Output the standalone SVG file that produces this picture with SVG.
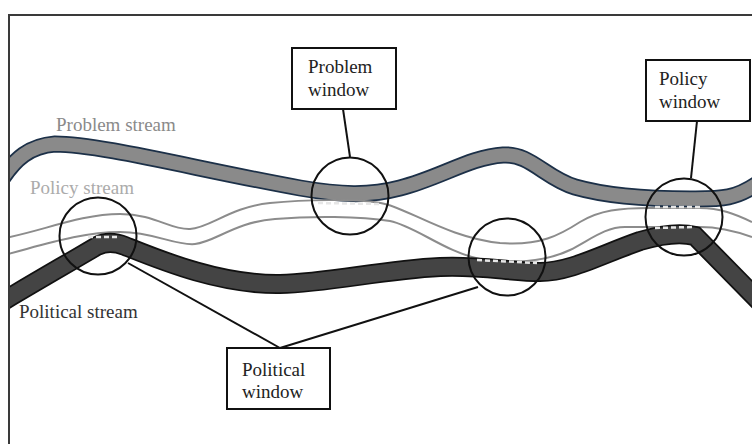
<svg xmlns="http://www.w3.org/2000/svg" width="752" height="444" viewBox="0 0 752 444">
<style>
.lbl{font-family:"Liberation Serif","Times New Roman",serif;font-size:19px}
.box{fill:#fff;stroke:#111;stroke-width:2}
.ring{fill:none;stroke:#111;stroke-width:2}
.lead{fill:none;stroke:#111;stroke-width:2}
.pol{fill:none;stroke:#8c8c8c;stroke-width:2}
.dash{fill:none;stroke:#e6e6e6;stroke-width:2.5;stroke-dasharray:5 3}
</style>
<defs>
<clipPath id="frame"><rect x="10" y="16" width="742" height="428"/></clipPath>
</defs>
<rect width="752" height="444" fill="#fff"/>
<path d="M9,444 V15 H752" fill="none" stroke="#3a3a3a" stroke-width="2"/>
<g id="streams" clip-path="url(#frame)">
<g id="problem-stream">
<path d="M0,182 C15,158 30,146 55,144 C100,144 200,170 300,188 C340,195 370,196 400,188 C440,178 470,157 503,155 C530,153 545,178 575,187 C610,197 650,199 690,199 C720,199 735,200 760,182" fill="none" stroke="#1c3048" stroke-width="17"/>
<path d="M0,182 C15,158 30,146 55,144 C100,144 200,170 300,188 C340,195 370,196 400,188 C440,178 470,157 503,155 C530,153 545,178 575,187 C610,197 650,199 690,199 C720,199 735,200 760,182" fill="none" stroke="#8a8a8a" stroke-width="13.5"/>
</g>
<g id="policy-stream">
<path class="pol" d="M0,239 C40,232 80,214 120,214 C155,214 170,230 190,229 C210,228 230,207 270,203 C300,200 360,198 385,204 C410,210 450,238 500,243 C540,246 560,235 580,222 C600,210 620,208 650,208 L700,208 C720,208 735,214 752,222"/>
<path class="pol" d="M0,256 C40,246 80,232 120,232 C155,232 175,246 195,244 C215,242 235,222 275,219 C310,216 360,216 390,221 C415,226 445,252 480,259 C510,264 545,262 570,250 C590,240 605,227 625,227 L700,227 C720,227 735,231 752,237"/>
</g>
<g id="political-stream">
<path d="M-5,306 C30,285 70,262 97,246 C105,242 115,242 125,246 C160,260 220,285 280,284 C330,283 380,270 440,267 C480,265 510,272 540,272 C570,272 600,255 640,241 C660,235 680,232 695,236 L760,302" fill="none" stroke="#111" stroke-width="20"/>
<path d="M-5,306 C30,285 70,262 97,246 C105,242 115,242 125,246 C160,260 220,285 280,284 C330,283 380,270 440,267 C480,265 510,272 540,272 C570,272 600,255 640,241 C660,235 680,232 695,236 L760,302" fill="none" stroke="#444" stroke-width="16.5"/>
</g>
<g id="overlaps">
<path class="dash" d="M88,237 L117,237"/>
<path class="dash" d="M318,203 L380,204"/>
<path class="dash" d="M477,260 L537,263"/>
<path class="dash" d="M655,207 L703,207"/>
<path class="dash" d="M655,228 L693,227"/>
</g>
</g>
<g id="connectors">
<path class="lead" d="M343,109 L350,157"/>
<path class="lead" d="M697,121 L691,178"/>
<path class="lead" d="M128,263 L280,348"/>
<path class="lead" d="M280,348 L478,287"/>
</g>
<g id="window-circles">
<circle class="ring" cx="98" cy="236" r="38.5"/>
<circle class="ring" cx="350" cy="196" r="38.5"/>
<circle class="ring" cx="507" cy="257" r="38.5"/>
<circle class="ring" cx="684" cy="217" r="38.5"/>
</g>
<g id="stream-labels">
<text class="lbl" x="56" y="131" fill="#8a8a8a">Problem stream</text>
<text class="lbl" x="30" y="194" fill="#ababab">Policy stream</text>
<text class="lbl" x="19" y="318" fill="#333">Political stream</text>
</g>
<g id="problem-window">
<rect class="box" x="292" y="48" width="104" height="61"/>
<text class="lbl" x="308" y="73" fill="#222">Problem</text>
<text class="lbl" x="308" y="96" fill="#222">window</text>
</g>
<g id="policy-window">
<rect class="box" x="646" y="60" width="104" height="61"/>
<text class="lbl" x="659" y="85" fill="#222">Policy</text>
<text class="lbl" x="659" y="108" fill="#222">window</text>
</g>
<g id="political-window">
<rect class="box" x="227" y="348" width="103" height="61"/>
<text class="lbl" x="242" y="376" fill="#222">Political</text>
<text class="lbl" x="242" y="398" fill="#222">window</text>
</g>
</svg>
